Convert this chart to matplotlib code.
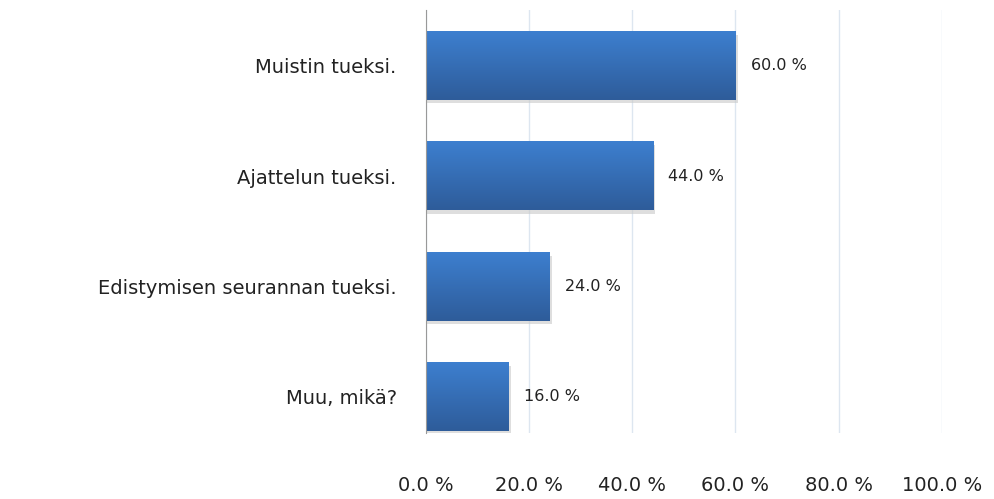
import matplotlib.pyplot as plt
import numpy as np

categories = ["Muistin tueksi.", "Ajattelun tueksi.", "Edistymisen seurannan tueksi.", "Muu, mikä?"]
values = [60.0, 44.0, 24.0, 16.0]
xticks = [0, 20, 40, 60, 80, 100]

plt.rcParams['font.family'] = ['DejaVu Sans']

fig = plt.figure(figsize=(9.95, 4.99), dpi=100)
ax = fig.add_axes([0.428, 0.132, 0.5186, 0.848])

y = np.arange(len(categories))
bars = ax.barh(y, values, height=0.62, color="#3a73bf", zorder=2)

# vertical gradient + soft shadow for each bar
grad = np.linspace(0, 1, 100).reshape(-1, 1)
cmap = plt.matplotlib.colors.LinearSegmentedColormap.from_list("g", ["#3d7fcf", "#2e5c9a"])
for b in bars:
    x0, y0, w, h = b.get_x(), b.get_y(), b.get_width(), b.get_height()
    ax.add_patch(plt.Rectangle((x0, y0 + 0.03), w + 0.5, h, color="#c8c8c8", alpha=0.6, zorder=1, lw=0))
    ax.imshow(grad, extent=(x0, x0 + w, y0 + h, y0), cmap=cmap, aspect="auto", zorder=3)

for yi, v in zip(y, values):
    ax.text(v + 3.0, yi, "{:.1f} %".format(v), va="center", ha="left", fontsize=11.5, color="#222222")

ax.set_xlim(0, 100)
ax.set_ylim(3.33, -0.508)
ax.set_xticks(xticks)
ax.set_xticklabels(["{:.1f} %".format(t) for t in xticks], fontsize=14, color="#222222")
ax.set_yticks(y)
ax.set_yticklabels(categories, fontsize=14, color="#222222")
ax.tick_params(axis="x", length=0, pad=31)
ax.tick_params(axis="y", length=0, pad=21)
ax.grid(axis="x", color="#dde6f0", lw=1, zorder=0)
ax.set_axisbelow(True)
for s in ["top", "right", "bottom"]:
    ax.spines[s].set_visible(False)
ax.spines["left"].set_color("#999999")
ax.spines["left"].set_zorder(5)

fig.savefig("out.png", dpi=100)
